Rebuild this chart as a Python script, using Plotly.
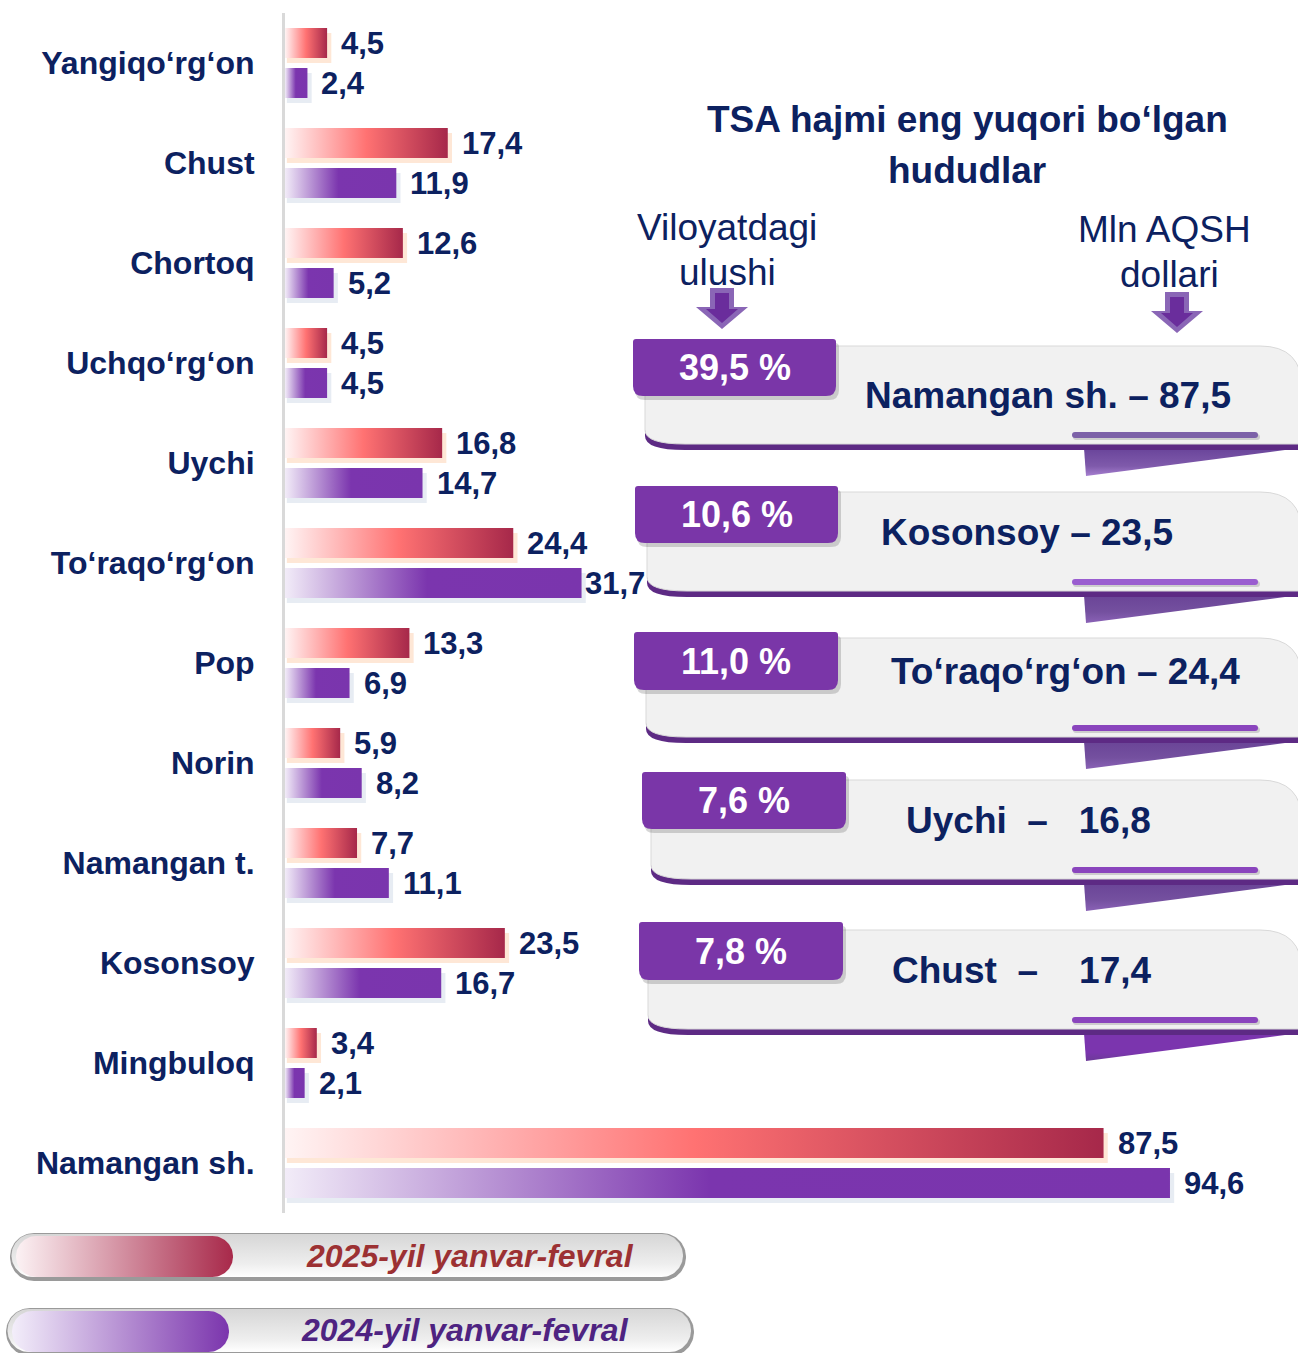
import numpy as np
import plotly.graph_objects as go

# ---------------- data ----------------
categories = ["Yangiqo‘rg‘on", "Chust", "Chortoq", "Uchqo‘rg‘on", "Uychi",
              "To‘raqo‘rg‘on", "Pop", "Norin", "Namangan t.", "Kosonsoy",
              "Mingbuloq", "Namangan sh."]
values_2025 = [4.5, 17.4, 12.6, 4.5, 16.8, 24.4, 13.3, 5.9, 7.7, 23.5, 3.4, 87.5]
values_2024 = [2.4, 11.9, 5.2, 4.5, 14.7, 31.7, 6.9, 8.2, 11.1, 16.7, 2.1, 94.6]
series_names = ["2025-yil yanvar-fevral", "2024-yil yanvar-fevral"]

top_regions = ["Namangan sh.", "Kosonsoy", "To‘raqo‘rg‘on", "Uychi", "Chust"]
top_shares = [39.5, 10.6, 11.0, 7.6, 7.8]
title_lines = ["TSA hajmi eng yuqori bo‘lgan", "hududlar"]
share_header = ["Viloyatdagi", "ulushi"]
value_header = ["Mln AQSH", "dollari"]

# ---------------- style ----------------
NAVY = "#0c2160"
W, H = 1298, 1353
X0PX, PXU = 285, 9.355          # axis origin pixel, pixels per unit
TOP, BOT = 13, 1213
BAR_H, OFF = 0.30, 0.20
RED_CS = [[0, "#fff4f4"], [0.5, "#ff7272"], [1, "#a6284a"]]
PUR_CS = [[0, "#f2ecf8"], [0.48, "#7b35ae"], [1, "#7a35ad"]]
NARROW = "Liberation Sans Narrow, Arial Narrow, Liberation Sans, Arial"
SANS = "Liberation Sans, Arial"


def fmt(v):
    return f"{v:.1f}".replace(".", ",")


fig = go.Figure()

# ---------------- main bars ----------------
for vals, cs, off, shadow in [(values_2025, RED_CS, -OFF, "rgba(253,212,180,0.55)"),
                              (values_2024, PUR_CS, OFF, "rgba(212,220,234,0.55)")]:
    for i, v in enumerate(vals):
        yc = i + off
        y0, y1 = yc - BAR_H / 2, yc + BAR_H / 2
        # soft shadow
        fig.add_trace(go.Scatter(
            x=[0.2, v + 0.45, v + 0.45, 0.2, 0.2],
            y=[y0 + 0.05, y0 + 0.05, y1 + 0.05, y1 + 0.05, y0 + 0.05],
            fill="toself", fillcolor=shadow, mode="lines", line=dict(width=0),
            hoverinfo="skip", showlegend=False, xaxis="x", yaxis="y"))
        fig.add_trace(go.Scatter(
            x=[0, v, v, 0, 0], y=[y0, y0, y1, y1, y0],
            fill="toself", fillgradient=dict(type="horizontal", colorscale=cs),
            mode="lines", line=dict(width=0), hoverinfo="skip",
            showlegend=False, xaxis="x", yaxis="y"))

annotations = []
for vals, off in [(values_2025, -OFF), (values_2024, OFF)]:
    for i, v in enumerate(vals):
        gap = 1 if (v == 31.7) else 12
        annotations.append(dict(
            x=v, y=i + off, xref="x", yref="y", text=fmt(v), showarrow=False,
            xanchor="left", yanchor="middle", xshift=gap,
            font=dict(family=SANS, size=31, color=NAVY, weight="bold")))

# ---------------- right panel (pixel space overlay axes) ----------------
shapes = []


def rpath(x0, y0, x1, y1, tl, tr, br, bl):
    return (f"M{x0+tl},{y0} L{x1-tr},{y0} Q{x1},{y0} {x1},{y0+tr} "
            f"L{x1},{y1-br} Q{x1},{y1} {x1-br},{y1} L{x0+bl},{y1} "
            f"Q{x0},{y1} {x0},{y1-bl} L{x0},{y0+tl} Q{x0},{y0} {x0+tl},{y0} Z")


def add_shape(path, fill, line=None, lw=0):
    shapes.append(dict(type="path", path=path, xref="x2", yref="y2",
                       fillcolor=fill, line=dict(color=line or fill, width=lw),
                       layer="above"))


for i, t in enumerate(title_lines):
    annotations.append(dict(x=967, y=119 + 51 * i, xref="x2", yref="y2", text=t,
                            showarrow=False, xanchor="center", yanchor="middle",
                            font=dict(family=SANS, size=37, color=NAVY, weight="bold")))
for hdr, cx, cy, dx in [(share_header, 727, 227, 0), (value_header, 1164, 229, 5)]:
    for i, t in enumerate(hdr):
        annotations.append(dict(x=cx + dx * i, y=cy + 45 * i,
                                xref="x2", yref="y2", text=t, showarrow=False,
                                xanchor="center", yanchor="middle",
                                font=dict(family=NARROW, size=37, color=NAVY)))


def arrow(cx, top, head_y, tip, hw, sw):
    return (f"M{cx-sw},{top} L{cx+sw},{top} L{cx+sw},{head_y} L{cx+hw},{head_y} "
            f"L{cx},{tip} L{cx-hw},{head_y} L{cx-sw},{head_y} Z")


for cx, top in [(722, 288), (1177, 292)]:
    add_shape(arrow(cx, top, top + 19, top + 41, 26, 12), "#8a66b6")
    add_shape(arrow(cx, top + 5, top + 21, top + 35, 16, 7), "#6a2d9c")

cards_layout = [
    dict(tab=(633, 836, 339, 396), bx=645, bt=346, bb=444, txt=(1048, 395)),
    dict(tab=(635, 838, 486, 543), bx=647, bt=492, bb=591, txt=(1027, 532)),
    dict(tab=(634, 838, 632, 690), bx=646, bt=638, bb=737, txt=(1065, 671)),
    dict(tab=(642, 846, 772, 829), bx=651, bt=780, bb=879, txt=(1028, 820)),
    dict(tab=(639, 843, 922, 980), bx=648, bt=930, bb=1029, txt=(1022, 970)),
]
card_seps = [" – ", " – ", " – ", "\u00a0\u00a0–\u00a0\u00a0\u00a0", "\u00a0\u00a0–\u00a0\u00a0\u00a0\u00a0"]
underline_colors = ["#7d62a8", "#9a5dd0", "#8a45bd", "#8a45bd", "#8a45bd"]
fold_scales = [
    [[0, "#a67fd0"], [0.35, "#7f5aab"], [1, "#69449a"]],
    [[0, "#8a62b6"], [0.4, "#74509f"], [1, "#6a4497"]],
    [[0, "#8a62b6"], [0.4, "#74509f"], [1, "#6a4497"]],
    [[0, "#8a62b6"], [0.4, "#74509f"], [1, "#6a4497"]],
    [[0, "#6c3a98"], [0.3, "#7b35ae"], [1, "#7b35ae"]],
]
BODY_R = 1302


def body_path(x0, y0, y1, dy=0):
    return (f"M{x0},{y0+dy} L{BODY_R-42},{y0+dy} Q{BODY_R},{y0+dy} {BODY_R},{y0+42+dy} "
            f"L{BODY_R},{y1+dy} L{x0+40},{y1+dy} Q{x0},{y1+dy} {x0},{y1-14+dy} Z")


for k, (name, share) in enumerate(zip(top_regions, top_shares)):
    c = cards_layout[k]
    value = values_2025[categories.index(name)]
    bx, bt, bb = c["bx"], c["bt"], c["bb"]
    # fold triangle (gradient)
    fig.add_trace(go.Scatter(
        x=[1084, 1300, 1086, 1084], y=[bb + 4, bb + 4, bb + 32, bb + 4],
        fill="toself", fillgradient=dict(type="vertical", colorscale=fold_scales[k]),
        mode="lines", line=dict(width=0), hoverinfo="skip", showlegend=False,
        xaxis="x2", yaxis="y2"))
    add_shape(body_path(bx, bt, bb, dy=6), "#5d2a84")
    add_shape(body_path(bx, bt, bb), "#f1f1f1", "#d9d9d9", 1)
    add_shape(rpath(1073, bb - 10, 1260, bb - 4, 3, 3, 3, 3), "rgba(0,0,0,0.15)")
    add_shape(rpath(1072, bb - 12, 1258, bb - 6, 3, 3, 3, 3), underline_colors[k])
    tx0, tx1, ty0, ty1 = c["tab"]
    add_shape(rpath(tx0 + 2, ty0 + 4, tx1 + 3, ty1 + 4, 4, 4, 10, 10), "rgba(0,0,0,0.16)")
    add_shape(rpath(tx0, ty0, tx1, ty1, 3, 3, 10, 10), "#7a36a8")
    annotations.append(dict(x=(tx0 + tx1) / 2, y=(ty0 + ty1) / 2, xref="x2", yref="y2",
                            text=f"{fmt(share)} %", showarrow=False,
                            xanchor="center", yanchor="middle",
                            font=dict(family=NARROW, size=36, color="white", weight="bold")))
    annotations.append(dict(x=c["txt"][0], y=c["txt"][1], xref="x2", yref="y2",
                            text=f"{name}{card_seps[k]}{fmt(value)}", showarrow=False,
                            xanchor="center", yanchor="middle",
                            font=dict(family=NARROW, size=37, color=NAVY, weight="bold")))


# ---------------- legend pills ----------------
def pill(x0, y0, x1, y1, n=40):
    r = (y1 - y0) / 2
    cy = (y0 + y1) / 2
    a1 = np.linspace(-np.pi / 2, np.pi / 2, n)
    a2 = np.linspace(np.pi / 2, 3 * np.pi / 2, n)
    xs = np.concatenate([x1 - r + r * np.cos(a1), x0 + r + r * np.cos(a2)])
    ys = np.concatenate([cy + r * np.sin(a1), cy + r * np.sin(a2)])
    return list(xs) + [xs[0]], list(ys) + [ys[0]]


legend_layout = [
    dict(outer=(10, 1233, 686, 1281), inner=(16, 1236, 233, 1277), text=(470, 1256),
         cs=[[0, "#fcf2f4"], [1, "#a8294a"]], color="#9c3133"),
    dict(outer=(6, 1308, 694, 1356), inner=(12, 1311, 229, 1352), text=(465, 1330),
         cs=[[0, "#f3eefa"], [1, "#7b35ad"]], color="#4e2381"),
]
for name, L in zip(series_names, legend_layout):
    x0, y0, x1, y1 = L["outer"]
    px, py = pill(x0, y0, x1, y1)
    fig.add_trace(go.Scatter(x=px, y=py, fill="toself", fillcolor="#9a9a9a", mode="lines",
                             line=dict(width=0), hoverinfo="skip", showlegend=False,
                             xaxis="x2", yaxis="y2"))
    px, py = pill(x0 + 1.5, y0 + 1, x1 - 3, y1 - 4)
    fig.add_trace(go.Scatter(x=px, y=py, fill="toself",
                             fillgradient=dict(type="vertical",
                                               colorscale=[[0, "#ffffff"], [0.3, "#eeeeee"], [1, "#d6d6d6"]]),
                             mode="lines", line=dict(width=0), hoverinfo="skip",
                             showlegend=False, xaxis="x2", yaxis="y2"))
    ix0, iy0, ix1, iy1 = L["inner"]
    px, py = pill(ix0, iy0, ix1, iy1)
    fig.add_trace(go.Scatter(x=px, y=py, fill="toself",
                             fillgradient=dict(type="horizontal", colorscale=L["cs"]),
                             mode="lines", line=dict(width=0), hoverinfo="skip",
                             showlegend=False, xaxis="x2", yaxis="y2"))
    annotations.append(dict(x=L["text"][0], y=L["text"][1], xref="x2", yref="y2",
                            text=name, showarrow=False, xanchor="center", yanchor="middle",
                            font=dict(family=NARROW, size=32, color=L["color"],
                                      weight="bold", style="italic")))

# ---------------- layout ----------------
fig.update_layout(
    width=W, height=H, margin=dict(l=0, r=0, t=0, b=0),
    paper_bgcolor="white", plot_bgcolor="rgba(0,0,0,0)", showlegend=False,
    xaxis=dict(domain=[X0PX / W, 1], range=[0, (W - X0PX) / PXU], visible=False,
               fixedrange=True),
    yaxis=dict(domain=[(H - BOT) / H, (H - TOP) / H], range=[len(categories) - 0.5, -0.5],
               tickmode="array", tickvals=list(range(len(categories))), ticktext=categories,
               ticks="outside", ticklen=21, tickcolor="rgba(0,0,0,0)",
               tickfont=dict(family=SANS, size=32, color=NAVY, weight="bold"),
               showline=True, linecolor="#d9d9d9", linewidth=3, showgrid=False,
               zeroline=False, automargin=False, fixedrange=True),
    xaxis2=dict(domain=[0, 1], range=[0, W], visible=False, anchor="y2", fixedrange=True),
    yaxis2=dict(domain=[0, 1], range=[H, 0], visible=False, anchor="x2", fixedrange=True),
    shapes=shapes, annotations=annotations,
)

fig.write_html("out.html", config={"displayModeBar": False},
               post_script="document.body.style.margin='0px';document.body.style.overflow='hidden';")
